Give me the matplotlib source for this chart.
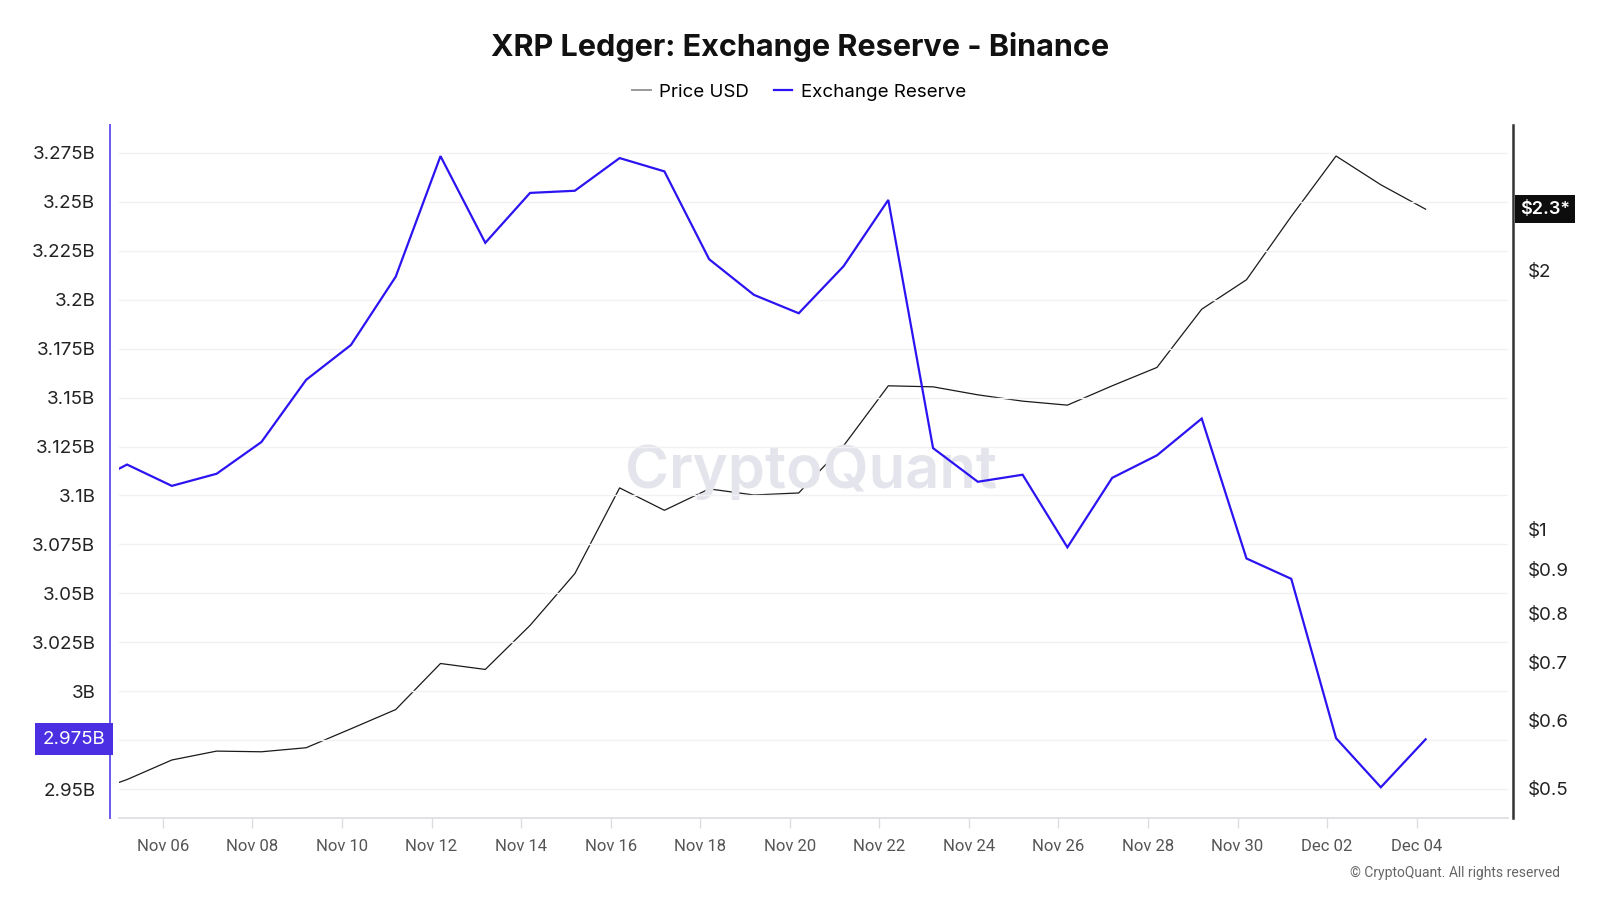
import matplotlib
matplotlib.use("Agg")
import matplotlib.pyplot as plt
import matplotlib.transforms as mtransforms
from matplotlib.lines import Line2D
import numpy as np
import pandas as pd

plt.rcParams['font.family'] = ['Inter', 'DejaVu Sans']

# ---- data ----
dates = pd.date_range("2024-11-04", "2024-12-04", freq="D")
reserve_b = [3.104, 3.1158, 3.1049, 3.1111, 3.1273, 3.1591, 3.1769, 3.2118, 3.2734, 3.2291,
             3.2546, 3.2557, 3.2724, 3.2656, 3.2207, 3.2025, 3.1931, 3.2171, 3.2510, 3.1242,
             3.1070, 3.1106, 3.0735, 3.1090, 3.1205, 3.1393, 3.0678, 3.0574, 2.9760, 2.9509, 2.9754]
price_usd = [0.491, 0.5125, 0.540, 0.553, 0.552, 0.558, 0.587, 0.618, 0.699, 0.688,
             0.774, 0.889, 1.118, 1.053, 1.115, 1.097, 1.103, 1.251, 1.469, 1.465,
             1.434, 1.410, 1.395, 1.469, 1.543, 1.803, 1.951, 2.311, 2.716, 2.515, 2.356]
left_ticks = [2.95, 2.975, 3.0, 3.025, 3.05, 3.075, 3.1, 3.125, 3.15, 3.175, 3.2, 3.225, 3.25, 3.275]
left_labels = ["2.95B", "", "3B", "3.025B", "3.05B", "3.075B", "3.1B", "3.125B", "3.15B",
               "3.175B", "3.2B", "3.225B", "3.25B", "3.275B"]
right_ticks = [0.5, 0.6, 0.7, 0.8, 0.9, 1, 2]
right_labels = ["$0.5", "$0.6", "$0.7", "$0.8", "$0.9", "$1", "$2"]
x_tick_dates = pd.date_range("2024-11-06", "2024-12-04", freq="2D")
x_tick_labels = [d.strftime("%b %d") for d in x_tick_dates]
last_reserve_label = "2.975B"
last_price_label = "$2.3*"

BLUE = "#2c14f2"
PURPLE = "#4b30e3"
DARK = "#1a1a1a"

W, H = 1600, 900
fig = plt.figure(figsize=(16, 9), dpi=100)
fig.patch.set_facecolor("white")

x0, x1, y0, y1 = 119, 1508, 125, 818
ax = fig.add_axes([x0 / W, 1 - y1 / H, (x1 - x0) / W, (y1 - y0) / H])
ax2 = ax.twinx()

# data x positions (points sit slightly after midnight of each tick day)
xnum = matplotlib.dates.date2num(dates) + 0.2

ax.plot(xnum, reserve_b, color=BLUE, lw=1.6, zorder=3, solid_joinstyle="miter")
ax2.plot(xnum, price_usd, color=DARK, lw=0.9, zorder=2)
ax.set_zorder(ax2.get_zorder() + 1)
ax.patch.set_visible(False)

tick0 = matplotlib.dates.date2num(pd.Timestamp("2024-11-06"))
ax.set_xlim(tick0 - 0.98, tick0 + 30.04)
ax.set_ylim(2.9352, 3.2893)
ax2.set_yscale("log")
ax2.set_ylim(0.4624, 2.951)

# grid
for t in left_ticks:
    ax.axhline(t, color="#f1f1f3", lw=1.0, zorder=0)

# x axis
ax.set_xticks(matplotlib.dates.date2num(x_tick_dates))
ax.set_xticklabels(x_tick_labels, fontfamily=["Roboto", "DejaVu Sans"])
ax.tick_params(axis="x", length=7, width=1, color="#dcdce2", pad=8,
               labelsize=12, labelcolor="#555555")

# left axis
ax.set_yticks(left_ticks)
ax.set_yticklabels(left_labels)
ax.tick_params(axis="y", length=0, pad=10.5, labelsize=13.5, labelcolor="#222222")
ax.spines["left"].set_position(("outward", 6.5))
ax.spines["left"].set_color("#6a5af0")
ax.spines["left"].set_linewidth(1.4)
ax.spines["bottom"].set_color("#dcdce2")
ax.spines["bottom"].set_linewidth(1.2)
ax.spines["top"].set_visible(False)
ax.spines["right"].set_visible(False)

# right axis
ax2.set_yticks(right_ticks)
ax2.set_yticklabels(right_labels)
ax2.yaxis.set_minor_locator(matplotlib.ticker.NullLocator())
ax2.tick_params(axis="y", which="both", length=0, pad=11, labelsize=13.5, labelcolor="#222222")
ax2.spines["right"].set_position(("outward", 3.6))
ax2.spines["right"].set_color("#333333")
ax2.spines["right"].set_linewidth(1.8)
for s in ["left", "top", "bottom"]:
    ax2.spines[s].set_visible(False)

# highlighted last-value labels
trL = mtransforms.blended_transform_factory(fig.transFigure, ax.transData)
ax.text(105 / W, reserve_b[-1], last_reserve_label, transform=trL, ha="right", va="center",
        color="white", fontsize=13.5, zorder=10, clip_on=False,
        bbox=dict(boxstyle="square,pad=0.4", fc=PURPLE, ec="none"))
trR = mtransforms.blended_transform_factory(fig.transFigure, ax2.transData)
ax2.text(1520 / W, price_usd[-1], last_price_label, transform=trR, ha="left", va="center",
         color="white", fontsize=13, fontweight="semibold", zorder=10, clip_on=False,
         bbox=dict(boxstyle="square,pad=0.3", fc="#0d0d0d", ec="none"))

# watermark
fig.text(811 / W, 1 - 472 / H, "CryptoQuant", ha="center", va="center",
         fontsize=43, fontweight="semibold", color="#e4e4ec", zorder=0)

# title and legend
fig.text(0.5, 1 - 47 / H, "XRP Ledger: Exchange Reserve - Binance", ha="center", va="center",
         fontsize=22, fontweight="bold", color="#111111")
handles = [Line2D([], [], color="#999999", lw=1.4), Line2D([], [], color=BLUE, lw=1.6)]
fig.legend(handles, ["Price USD", "Exchange Reserve"], loc="center", ncol=2,
           bbox_to_anchor=(799 / W, 1 - 92 / H), frameon=False, fontsize=13.5,
           handlelength=1.0, handletextpad=0.45, columnspacing=1.3)

fig.text(1560 / W, 1 - 873 / H, "© CryptoQuant. All rights reserved", ha="right", va="center",
         fontsize=10, color="#666666", fontfamily=["Roboto", "DejaVu Sans"])

fig.savefig("out.png", dpi=100, facecolor="white")
